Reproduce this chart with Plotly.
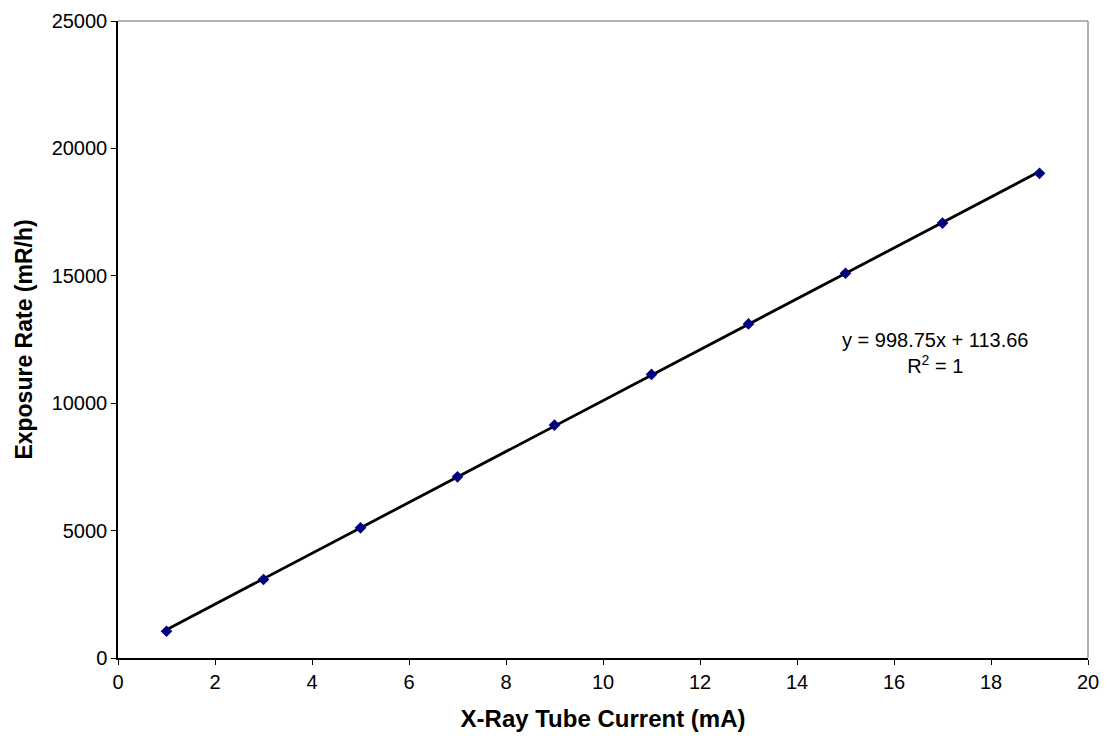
import plotly.graph_objects as go

current_mA = [1, 3, 5, 7, 9, 11, 13, 15, 17, 19]
exposure_rate = [1050, 3080, 5110, 7110, 9140, 11130, 13110, 15100, 17070, 19020]
slope = 998.75
intercept = 113.66
x_ticks = [0, 2, 4, 6, 8, 10, 12, 14, 16, 18, 20]
y_ticks = [0, 5000, 10000, 15000, 20000, 25000]

fit_x = [min(current_mA), max(current_mA)]
fit_y = [slope * v + intercept for v in fit_x]

FONT = "Liberation Sans"

fig = go.Figure()
fig.add_trace(go.Scatter(x=fit_x, y=fit_y, mode="lines",
                         line=dict(color="black", width=2.8), showlegend=False,
                         hoverinfo="skip"))
fig.add_trace(go.Scatter(x=current_mA, y=exposure_rate, mode="markers",
                         marker=dict(symbol="diamond", size=9, color="#000080"),
                         showlegend=False))

fig.add_annotation(x=0.842, y=0.479, xref="paper", yref="paper",
                   xanchor="center", yanchor="middle",
                   text="y = 998.75x + 113.66<br>R<sup>2</sup> = 1",
                   showarrow=False, align="center",
                   font=dict(family=FONT, size=20, color="black"))

# top and right border in gray
fig.add_shape(type="line", xref="paper", yref="paper", x0=0, x1=1, y0=1, y1=1,
              line=dict(color="#999999", width=1.5))
fig.add_shape(type="line", xref="paper", yref="paper", x0=1, x1=1, y0=0, y1=1,
              line=dict(color="#999999", width=1.5))

fig.update_layout(
    width=1100, height=724,
    margin=dict(l=110, r=20, t=13, b=74, autoexpand=False),
    paper_bgcolor="white", plot_bgcolor="white",
    font=dict(family=FONT, size=20, color="black"),
    xaxis=dict(range=[0, 20], tickvals=x_ticks, ticktext=[str(v) for v in x_ticks],
               showgrid=False, zeroline=False,
               showline=True, linecolor="black", linewidth=1.5,
               ticks="outside", ticklen=5, tickcolor="black",
               tickfont=dict(family=FONT, size=20),
               title=dict(text="<b>X-Ray Tube Current (mA)</b>",
                          font=dict(family=FONT, size=24), standoff=19)),
    yaxis=dict(range=[0, 25000], tickvals=y_ticks, ticktext=[str(v) for v in y_ticks],
               showgrid=False, zeroline=False,
               showline=True, linecolor="black", linewidth=1.5,
               ticks="outside", ticklen=5, tickcolor="black",
               tickfont=dict(family=FONT, size=20),
               title=dict(text="<b>Exposure Rate (mR/h)</b>",
                          font=dict(family=FONT, size=23), standoff=13)),
)

fig.write_html("out.html")
